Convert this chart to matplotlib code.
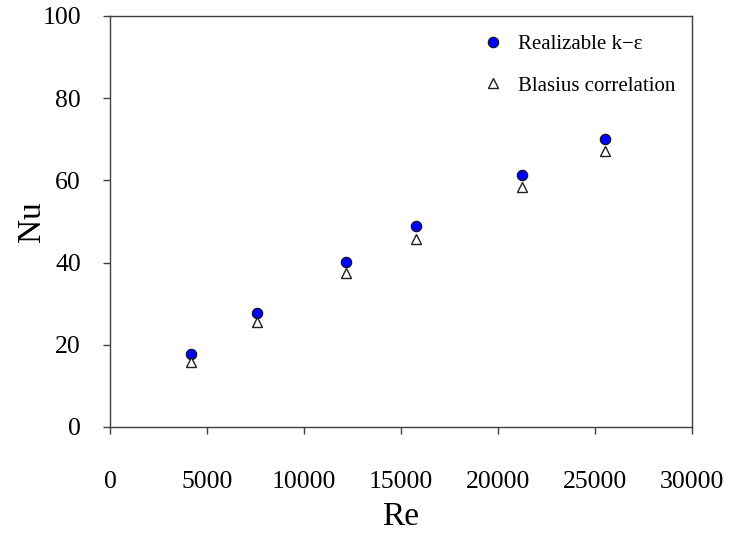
import matplotlib
matplotlib.use("Agg")
import matplotlib.pyplot as plt

re_vals = [4160, 7590, 12150, 15760, 21240, 25520]
nu_realizable = [17.7, 27.7, 40.2, 49.0, 61.3, 70.1]
nu_blasius = [15.9, 25.6, 37.4, 45.7, 58.4, 67.2]
x_ticks = [0, 5000, 10000, 15000, 20000, 25000, 30000]
y_ticks = [0, 20, 40, 60, 80, 100]

plt.rcParams['font.family'] = ['Liberation Serif', 'DejaVu Serif']
plt.rcParams['mathtext.fontset'] = 'stix'

fig = plt.figure(figsize=(7.29, 5.33), dpi=100)
ax = fig.add_axes([0.151, 0.199, 0.798, 0.771])

ax.plot(re_vals, nu_realizable, linestyle='none', marker='o', markersize=7.5,
        markerfacecolor='#0000ff', markeredgecolor='#101010', markeredgewidth=0.8,
        label='Realizable k\u2212\u03b5')
ax.plot(re_vals, nu_blasius, linestyle='none', marker='^', markersize=7,
        markerfacecolor='white', markeredgecolor='#202020', markeredgewidth=1.0,
        label='Blasius correlation')

ax.set_xlim(0, 30000)
ax.set_ylim(0, 100)
ax.set_xticks(x_ticks)
ax.set_yticks(y_ticks)
ax.tick_params(axis='x', direction='out', length=5, width=1, pad=27, labelsize=18.5, color='#404040')
ax.tick_params(axis='y', direction='out', length=5, width=1, pad=16, labelsize=18.5, color='#404040')
for s in ax.spines.values():
    s.set_color('#404040')
    s.set_linewidth(1.0)

ax.set_xlabel('Re', fontsize=24, labelpad=6)
ax.set_ylabel('Nu', fontsize=24)
ax.yaxis.set_label_coords(-0.108, 0.5)

leg = ax.legend(loc='upper left', bbox_to_anchor=(0.604, 1.0), frameon=False,
                fontsize=15, handletextpad=0.6, labelspacing=1.05, handlelength=1.2,
                borderaxespad=0.5)

fig.savefig('out.png', dpi=100)
